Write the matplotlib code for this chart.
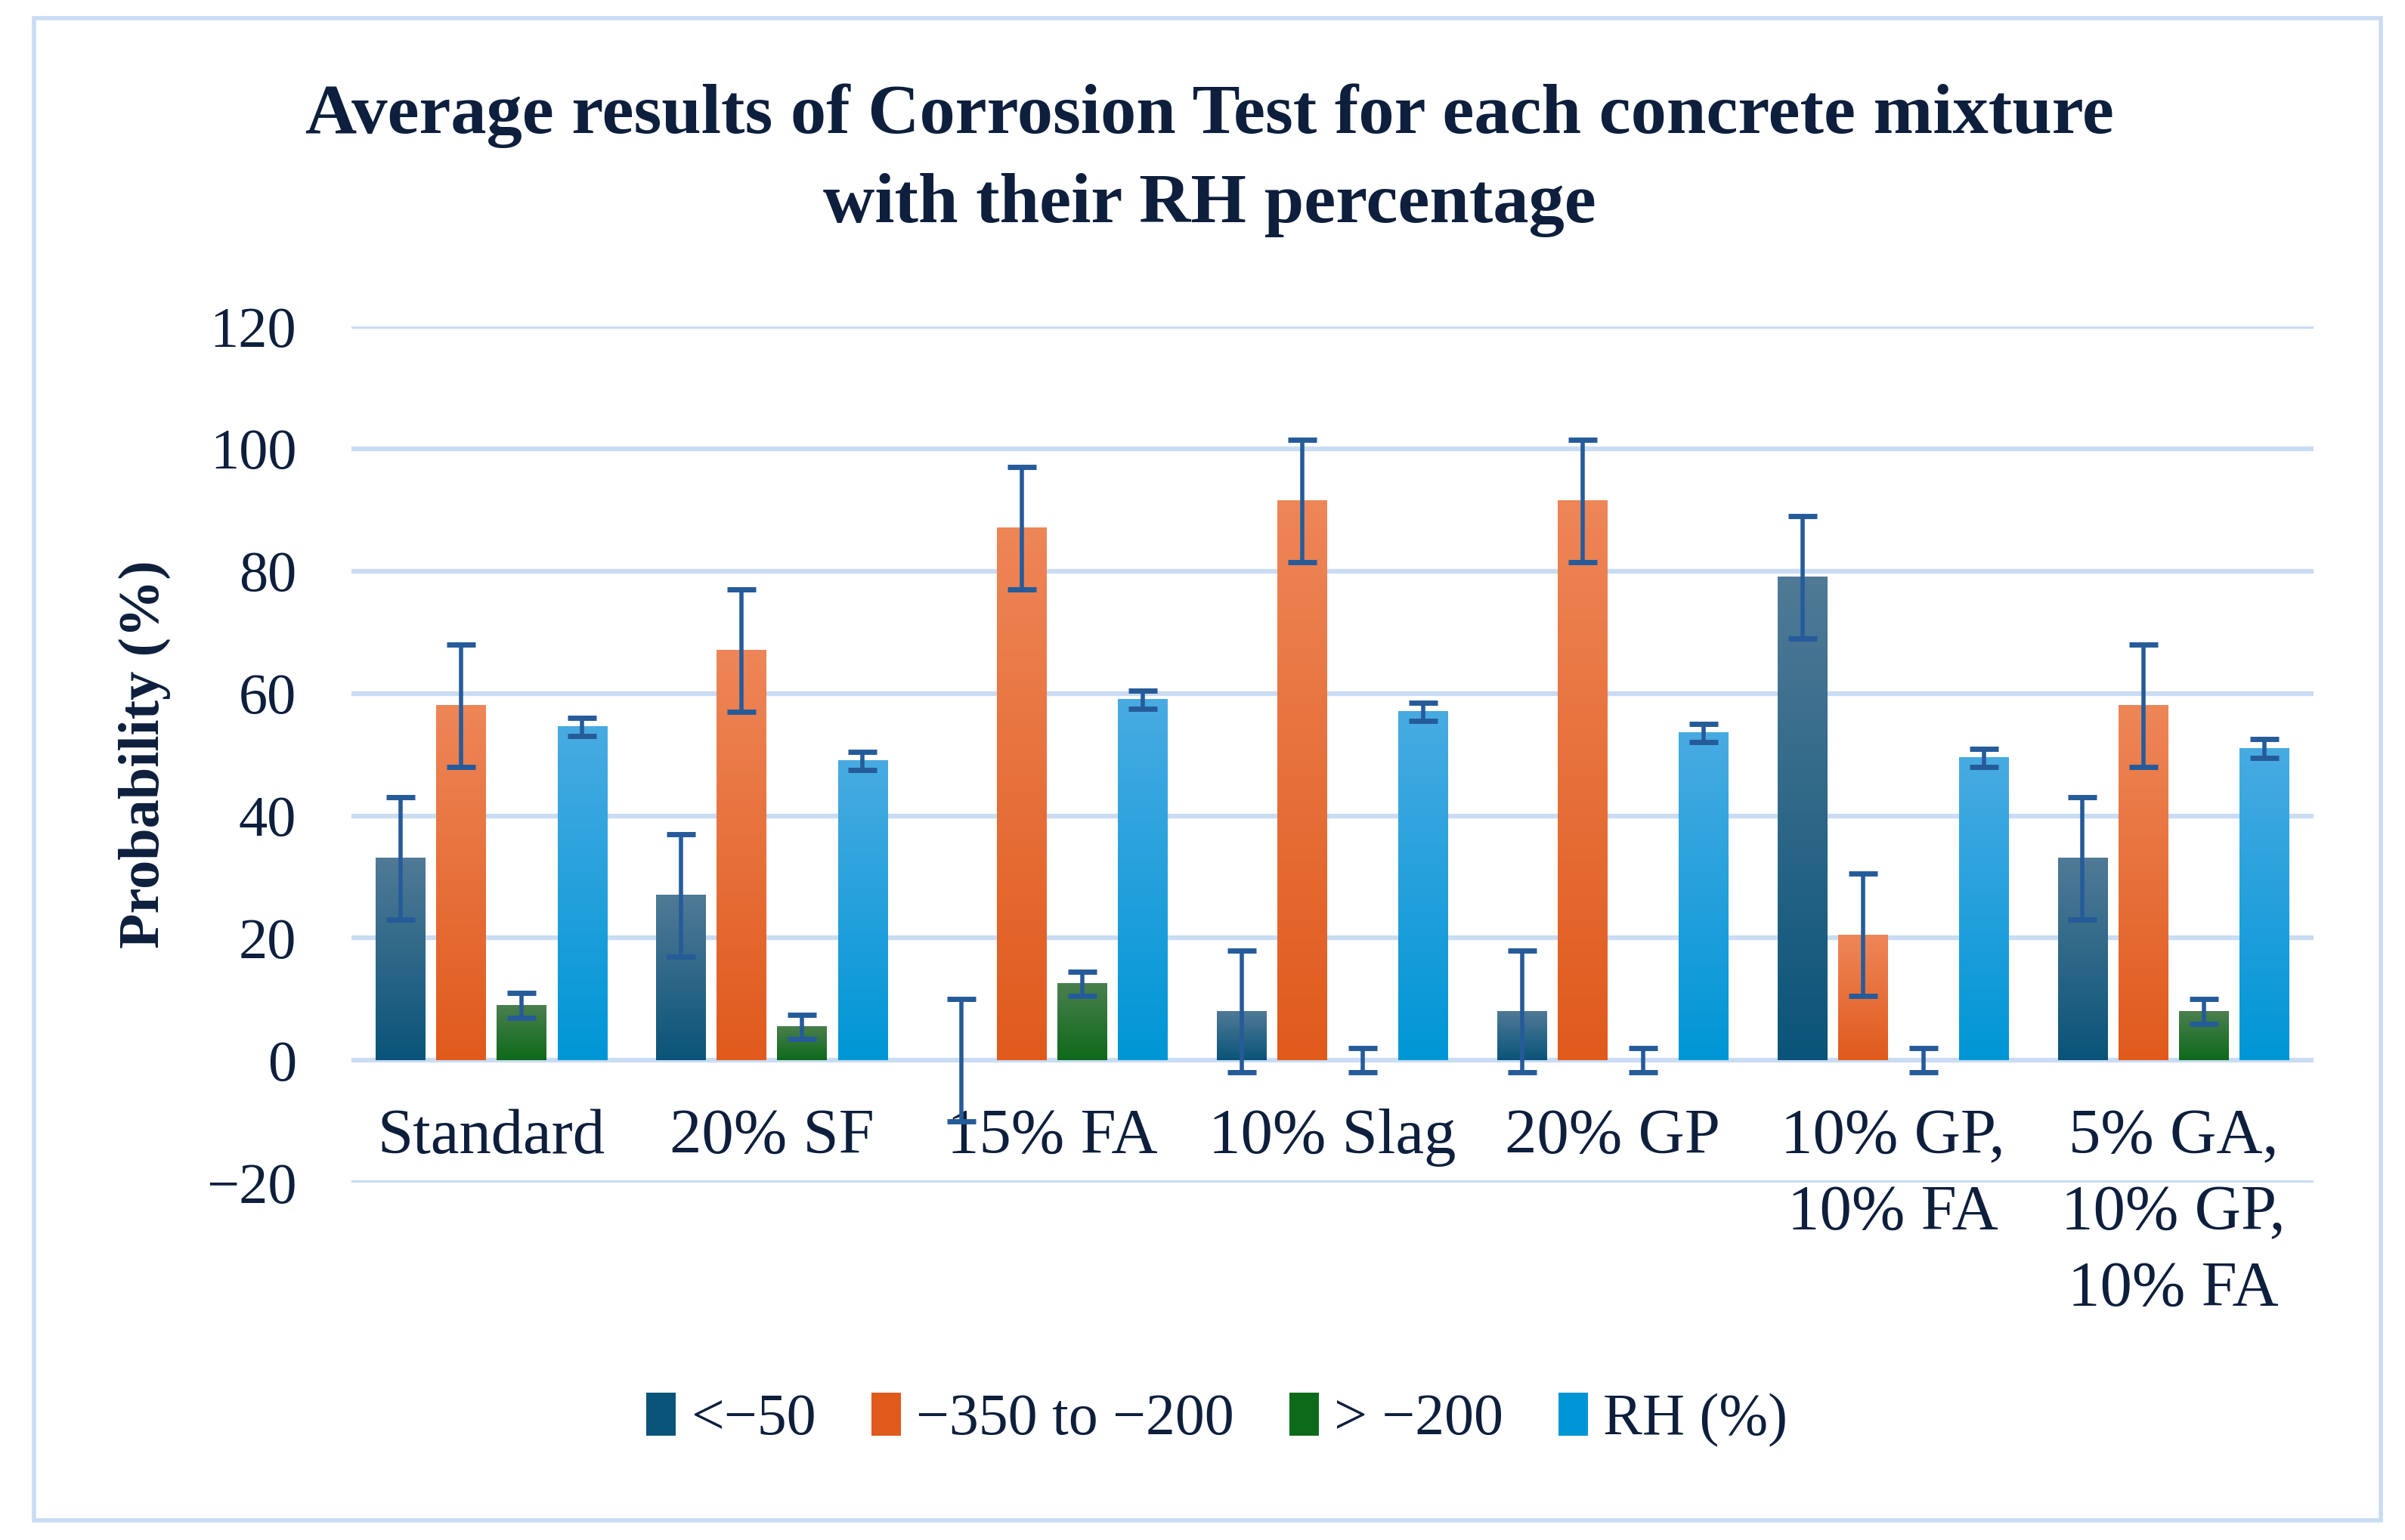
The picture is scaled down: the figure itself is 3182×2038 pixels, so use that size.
import numpy as np
import matplotlib
matplotlib.use("Agg")
import matplotlib.pyplot as plt
from matplotlib.colors import LinearSegmentedColormap
from matplotlib.patches import Rectangle

# data
mixtures = ["Standard", "20% SF", "15% FA", "10% Slag", "20% GP",
            "10% GP,\n10% FA", "5% GA,\n10% GP,\n10% FA"]
series_names = ["<\u221250", "\u2212350 to \u2212200", "> \u2212200", "RH (%)"]
below_50 = [33, 27, 0, 8, 8, 79, 33]
range_350_200 = [58, 67, 87, 91.5, 91.5, 20.5, 58]
above_200 = [9, 5.5, 12.5, 0, 0, 0, 8]
rh = [54.5, 49, 59, 57, 53.5, 49.5, 51]
err_below_50 = [10, 10, 10, 10, 10, 10, 10]
err_range = [10, 10, 10, 10, 10, 10, 10]
err_above = [2, 2, 2, 2, 2, 2, 2]
err_rh = [1.5, 1.5, 1.5, 1.5, 1.5, 1.5, 1.5]

series = [below_50, range_350_200, above_200, rh]
errors = [err_below_50, err_range, err_above, err_rh]
# (top colour, bottom colour) of each gradient fill
grads = [("#507a96", "#0a5479"), ("#ee8658", "#e05a1c"),
         ("#4b7f4e", "#0d6a1a"), ("#48abe2", "#0096d6")]

text_col = "#0d1f3c"
grid_col = "#c9dcf3"
err_col = "#265b9a"
font = "Liberation Serif"

fig = plt.figure(figsize=(31.82, 20.38), dpi=100)
ax = fig.add_axes([0.146, 0.232, 0.816, 0.556])

x = np.arange(len(mixtures))
width = 0.176
step = 0.216

for k, (vals, errs) in enumerate(zip(series, errors)):
    pos = x + (k - 1.5) * step
    bars = ax.bar(pos, vals, width, color="none", linewidth=0, zorder=2)
    cmap = LinearSegmentedColormap.from_list(f"g{k}", [grads[k][1], grads[k][0]])
    for b in bars:
        bx, by = b.get_x(), b.get_y()
        bw, bh = b.get_width(), b.get_height()
        if bh <= 0:
            continue
        ax.imshow(np.linspace(0, 1, 256).reshape(-1, 1), cmap=cmap, origin="lower",
                  extent=[bx, bx + bw, by, by + bh], aspect="auto", zorder=2)
    ax.errorbar(pos, vals, yerr=errs, fmt="none", ecolor=err_col, elinewidth=4,
                capsize=14, capthick=5, zorder=4)

ax.set_xlim(-0.5, len(mixtures) - 0.5)
ax.set_ylim(-20, 120)
ax.set_yticks(np.arange(-20, 121, 20))
ax.set_yticklabels([str(v).replace("-", "\u2212") for v in range(-20, 121, 20)],
                   fontsize=55, family=font, color=text_col)
ax.tick_params(axis="y", length=0, pad=52)
ax.set_xticks([])
ax.yaxis.grid(True, color=grid_col, linewidth=4.5, zorder=0)
ax.set_axisbelow(True)
for s in ax.spines.values():
    s.set_visible(False)

for i, name in enumerate(mixtures):
    ax.annotate(name, xy=(i, 0), xycoords="data", xytext=(0, -46),
                textcoords="offset points", ha="center", va="top",
                multialignment="center", fontsize=61, family=font,
                color=text_col, linespacing=1.4)

ax.set_ylabel("Probability (%)", fontsize=55, family=font, fontweight="bold",
              color=text_col, labelpad=34)

fig.text(0.503, 0.925, "Average results of Corrosion Test for each concrete mixture",
         ha="center", va="center", fontsize=68, family=font, fontweight="bold",
         color=text_col)
fig.text(0.503, 0.867, "with their RH percentage", ha="center", va="center",
         fontsize=68, family=font, fontweight="bold", color=text_col)

handles = [Rectangle((0, 0), 1, 1, facecolor=grads[k][1]) for k in range(4)]
fig.legend(handles, series_names, loc="center", bbox_to_anchor=(0.506, 0.078),
           ncol=4, frameon=False, prop={"family": font, "size": 56},
           handlelength=0.5, handleheight=0.75, handletextpad=0.25,
           columnspacing=0.95, labelcolor=text_col)

fig.patches.append(Rectangle((0.014, 0.013), 0.976, 0.975, transform=fig.transFigure,
                             fill=False, edgecolor=grid_col, linewidth=4))

fig.savefig("out.png", dpi=100)
